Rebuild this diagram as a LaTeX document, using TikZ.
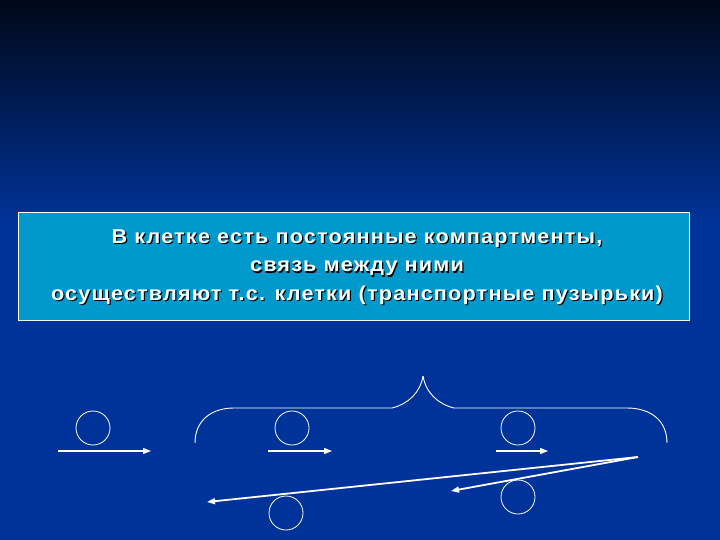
\documentclass[tikz,border=0pt]{standalone}
\usepackage{fontspec}
\setmainfont{Liberation Sans}
\usetikzlibrary{arrows.meta,positioning}
\definecolor{slidetop}{RGB}{0,8,24}
\definecolor{slideblue}{RGB}{0,51,153}
\definecolor{boxblue}{RGB}{0,153,204}

\begin{document}
\begin{tikzpicture}[x=1pt,y=-1pt]
            \tikzstyle{vesicle}=[draw=white,circle,minimum size=34pt,inner sep=0pt,line width=0.8pt]
            \tikzstyle{flow}=[draw=white,line width=1.2pt,-{Triangle[length=8pt,width=6pt]}]
            \tikzstyle{back}=[draw=white,line width=1.8pt,-{Triangle[length=8pt,width=6pt]}]
            \tikzstyle{brace}=[draw=white,line width=0.9pt]
            \tikzstyle{caption}=[align=center,font=\addfontfeature{FakeStretch=1.08,LetterSpace=6}\bfseries\fontsize{20}{28.5}\selectfont]

            % background of the slide
            \useasboundingbox (0,0) rectangle (720,540);
            \fill[slideblue] (0,0) rectangle (720,540);
            \shade[top color=slidetop,bottom color=slideblue] (0,0) rectangle (720,225);

            % text box
            \node [draw=white,fill=boxblue,line width=0.8pt,minimum width=671pt,minimum height=108pt] (box) at (354,266) {};
            \node [caption,text=black] (shadow) at (358.2,268.2) {В клетке есть постоянные компартменты,\\связь между ними\\ осуществляют т.с. клетки (транспортные пузырьки)};
            \node [caption,text=white] (caption) at (357,267) {В клетке есть постоянные компартменты,\\связь между ними\\ осуществляют т.с. клетки (транспортные пузырьки)};

            % vesicles
            \node [vesicle] (v1) at (93,428) {};
            \node [vesicle] (v2) at (292,428) {};
            \node [vesicle] (v3) at (518,428) {};
            \node [vesicle] (v4) at (286,513) {};
            \node [vesicle] (v5) at (518,497) {};

            % arrows under the vesicles
            \coordinate (a1) at (58,451);  \coordinate (b1) at (151,451);
            \coordinate (a2) at (268,451); \coordinate (b2) at (332,451);
            \coordinate (a3) at (496,451); \coordinate (b3) at (548,451);
            \draw [flow] (a1) -- (b1);
            \draw [flow] (a2) -- (b2);
            \draw [flow] (a3) -- (b3);

            % way back
            \coordinate (r) at (638,457);
            \coordinate (r1) at (207,502);
            \coordinate (r2) at (451,491);
            \draw [back] (r) -- (r1);
            \draw [back] (r) -- (r2);

            % brace over the compartments
            \coordinate (bl) at (195,443);
            \coordinate (br) at (667,443);
            \coordinate (tip) at (423,376);
            \draw [brace] (bl) .. controls (195,420) and (212,408) .. (234,408)
                -- (392,408) .. controls (408,404) and (420,393) .. (tip);
            \draw [brace] (tip) .. controls (426,393) and (438,404) .. (454,408)
                -- (627,408) .. controls (650,408) and (667,420) .. (br);
        \end{tikzpicture}
\end{document}
